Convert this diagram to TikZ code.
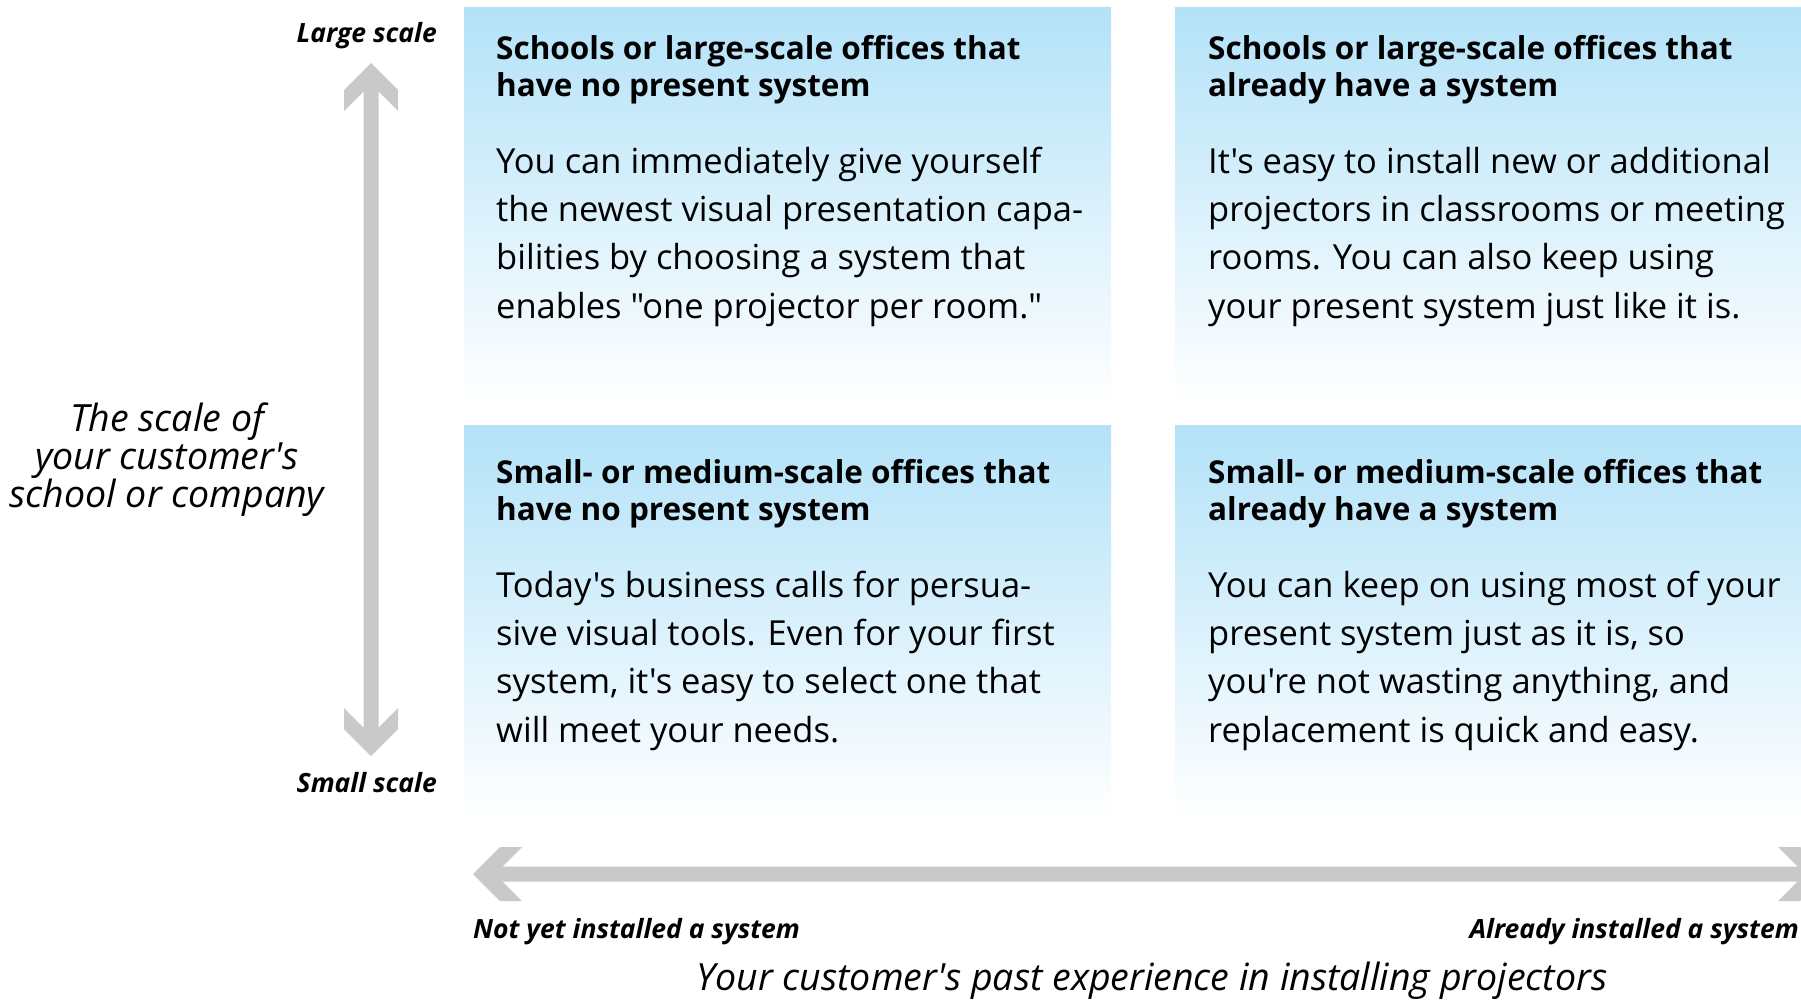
\documentclass[tikz,border=0pt]{standalone}
\usepackage{fontspec}
\setmainfont{Open Sans}[Ligatures=TeXOff]
\usetikzlibrary{positioning,calc}

\definecolor{boxblue}{HTML}{B3E2F8}
\definecolor{arrowgray}{HTML}{C8C9CB}

\begin{document}
\begin{tikzpicture}[x=1pt,y=-1pt,
  quad/.style={top color=boxblue,bottom color=white,draw=none,inner sep=0pt,
    minimum width=647,minimum height=398,anchor=north west},
  head/.style={anchor=base west,align=left,inner sep=0pt,
    font=\fontsize{31.5}{37}\selectfont\bfseries},
  body/.style={anchor=base west,align=left,inner sep=0pt,
    font=\fontsize{34.5}{48.3}\selectfont},
  axis/.style={fill=arrowgray,draw=none},
  end label/.style={inner sep=0pt,font=\fontsize{26.5}{30}\selectfont\bfseries\itshape},
  axis label/.style={inner sep=0pt,align=center,font=\fontsize{37.5}{38}\selectfont\itshape}]

  \useasboundingbox (0,0) rectangle (1801,1001);

  % the four quadrants
  \node[quad] (tl) at (464,7) {};
  \node[quad] (tr) at (1175,7) {};
  \node[quad,minimum height=395] (bl) at (464,425) {};
  \node[quad,minimum height=395] (br) at (1175,425) {};

  % text blocks sit on the baseline of their last line
  \node[head] (tlhead) at ([xshift=32pt,yshift=-89pt]tl.north west)
    {Schools or large-scale offices that\\have no present system};
  \node[body] (tlbody) at ([xshift=32pt,yshift=-311pt]tl.north west)
    {You can immediately give yourself\\the newest visual presentation capa-\\bilities by choosing a system that\\enables "one projector per room."};

  \node[head] (trhead) at ([xshift=33pt,yshift=-89pt]tr.north west)
    {Schools or large-scale offices that\\already have a system};
  \node[body] (trbody) at ([xshift=33pt,yshift=-311pt]tr.north west)
    {It's easy to install new or additional\\projectors in classrooms or meeting\\rooms. You can also keep using\\your present system just like it is.};

  \node[head] (blhead) at ([xshift=32pt,yshift=-95pt]bl.north west)
    {Small- or medium-scale offices that\\have no present system};
  \node[body] (blbody) at ([xshift=32pt,yshift=-317pt]bl.north west)
    {Today's business calls for persua-\\sive visual tools. Even for your first\\system, it's easy to select one that\\will meet your needs.};

  \node[head] (brhead) at ([xshift=33pt,yshift=-95pt]br.north west)
    {Small- or medium-scale offices that\\already have a system};
  \node[body] (brbody) at ([xshift=33pt,yshift=-317pt]br.north west)
    {You can keep on using most of your\\present system just as it is, so\\you're not wasting anything, and\\replacement is quick and easy.};

  % vertical axis
  \coordinate (ytop) at (371,63);
  \coordinate (ybot) at (371,756);
  \fill[axis] (ytop) -- ++(27,27) -- ++(0,21) -- ++(-19.5,-19.5) -- ($(ybot)+(7.5,-28.5)$)
    -- ++(19.5,-19.5) -- ++(0,21) -- (ybot) -- ++(-27,-27) -- ++(0,-21) -- ++(19.5,19.5)
    -- ($(ytop)+(-7.5,28.5)$) -- ++(-19.5,19.5) -- ++(0,-21) -- cycle;
  \node[end label,anchor=base east] (large) at (437,42) {Large scale};
  \node[end label,anchor=base east] (small) at (437,792) {Small scale};
  \node[axis label] (scale) at (167,460) {The scale of\\your customer's\\school or company};

  % horizontal axis
  \coordinate (xleft) at (473,874);
  \coordinate (xright) at (1827,874);
  \fill[axis] (xleft) -- ++(27,-27) -- ++(22,0) -- ++(-19.5,19.5) -- ($(xright)+(-29.5,-7.5)$)
    -- ++(-19.5,-19.5) -- ++(22,0) -- (xright) -- ++(-27,27) -- ++(-22,0) -- ++(19.5,-19.5)
    -- ($(xleft)+(29.5,7.5)$) -- ++(19.5,19.5) -- ++(-22,0) -- cycle;
  \node[end label,anchor=base west] (notyet) at (473,938) {Not yet installed a system};
  \node[end label,anchor=base east] (already) at (1799,938) {Already installed a system};
  \node[axis label,anchor=base] (past) at (1152,990) {Your customer's past experience in installing projectors};
\end{tikzpicture}
\end{document}
